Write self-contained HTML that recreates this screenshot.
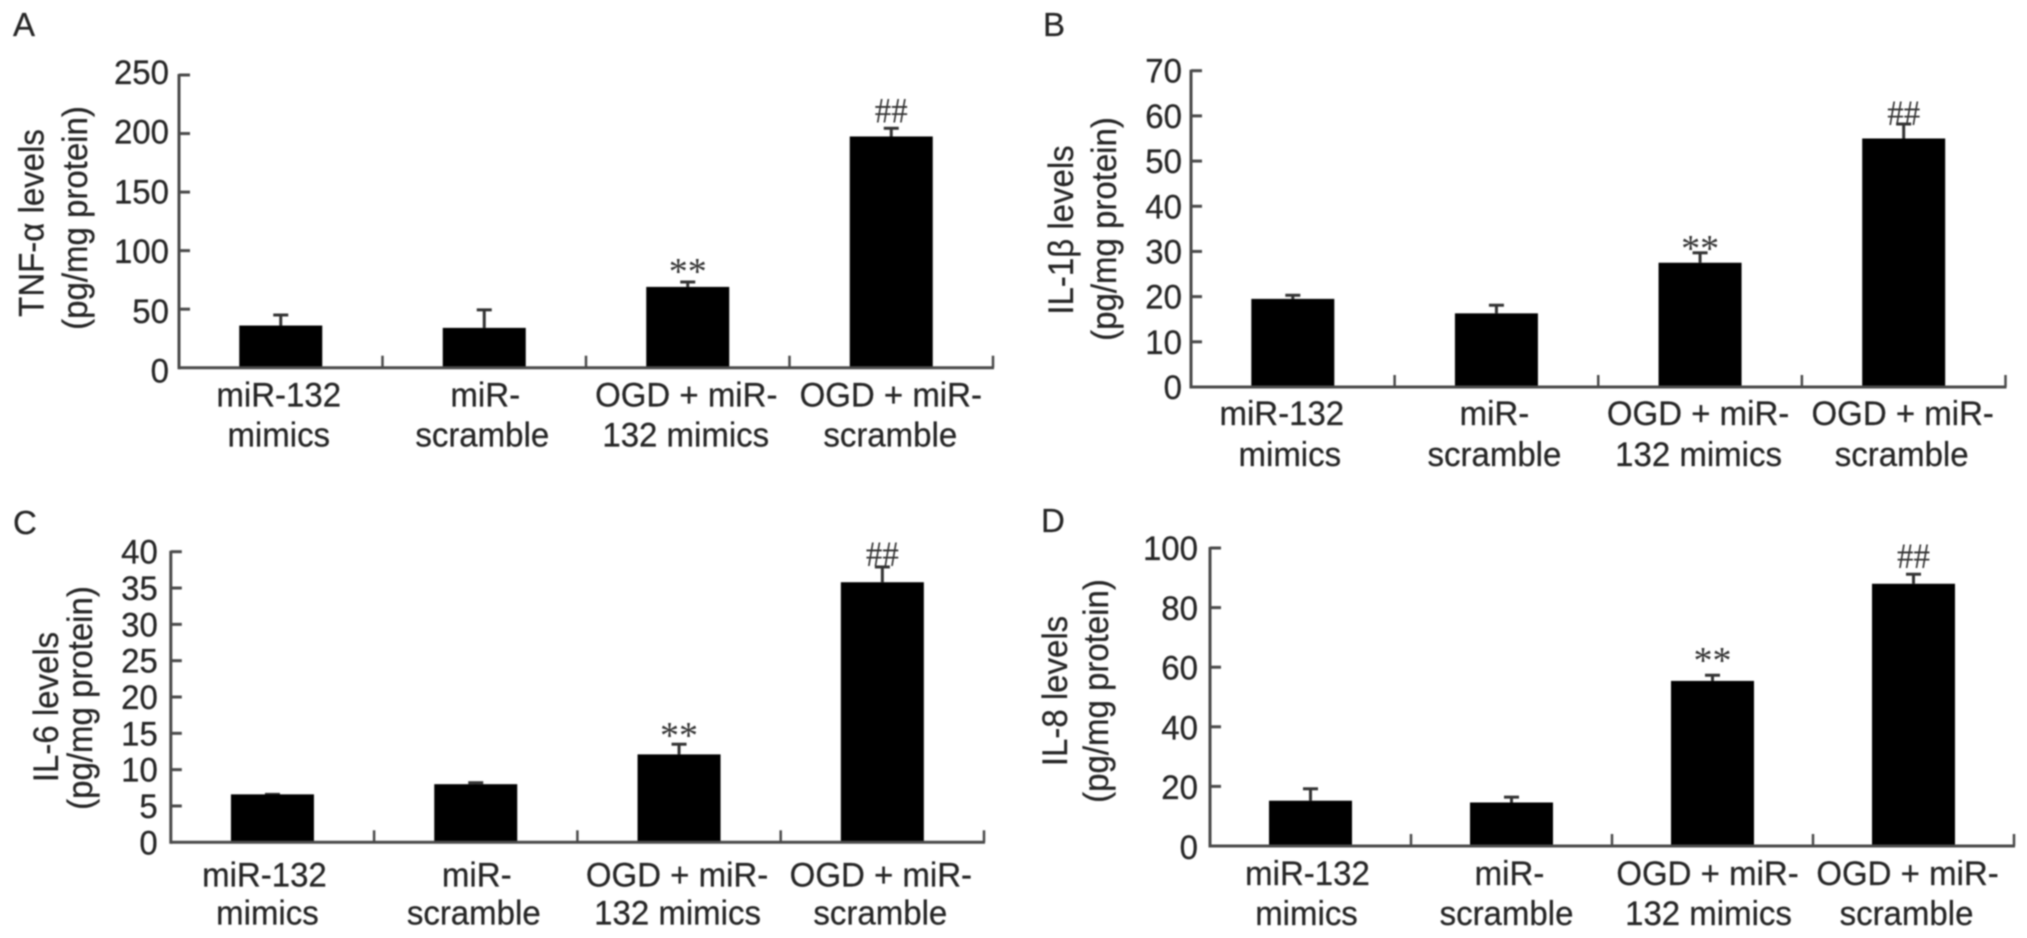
<!DOCTYPE html>
<html lang="en">
<head>
<meta charset="utf-8">
<title>Cytokine levels by treatment group</title>
<style>
  html, body { margin: 0; padding: 0; background: #fff; }
  svg { display: block; }
  text { font-family: "Liberation Sans", "DejaVu Sans", sans-serif; font-size: 33px; fill: #262626; stroke: #262626; stroke-width: 0.25px; }
  .mark { font-family: "Liberation Serif", "DejaVu Serif", serif; fill: #333; stroke: none; }
  #figure { filter: blur(0.7px); }
</style>
</head>
<body>
<svg id="figure" width="2027" height="938" viewBox="0 0 2027 938" xmlns="http://www.w3.org/2000/svg">
  <text x="13" y="36">A</text>
  <text x="1043" y="36">B</text>
  <text x="13" y="534">C</text>
  <text x="1041" y="532">D</text>

  <text transform="translate(43.5,223) rotate(-90) scale(1,1.07)" text-anchor="middle">TNF-α levels</text>
  <text transform="translate(87,218) rotate(-90) scale(1,1.07)" text-anchor="middle">(pg/mg protein)</text>
  <text transform="translate(1073,230) rotate(-90) scale(1,1.07)" text-anchor="middle">IL-1β levels</text>
  <text transform="translate(1116,229) rotate(-90) scale(1,1.07)" text-anchor="middle">(pg/mg protein)</text>
  <text transform="translate(58,707) rotate(-90) scale(1,1.07)" text-anchor="middle">IL-6 levels</text>
  <text transform="translate(92,698) rotate(-90) scale(1,1.07)" text-anchor="middle">(pg/mg protein)</text>
  <text transform="translate(1067,691) rotate(-90) scale(1,1.07)" text-anchor="middle">IL-8 levels</text>
  <text transform="translate(1108,691) rotate(-90) scale(1,1.07)" text-anchor="middle">(pg/mg protein)</text>
</svg>
<script>
// ---- Data ----
const categoryLine1 = ['miR-132', 'miR-', 'OGD + miR-', 'OGD + miR-'];
const categoryLine2 = ['mimics', 'scramble', '132 mimics', 'scramble'];
const significance = ['', '', '**', '##'];

const tnfTicks = [0, 50, 100, 150, 200, 250];
const tnfValues = [36, 34, 69, 197.5];
const tnfErrorTops = [45, 49.4, 73.2, 204.5];

const il1Ticks = [0, 10, 20, 30, 40, 50, 60, 70];
const il1Values = [19.5, 16.3, 27.5, 55];
const il1ErrorTops = [20.3, 18.1, 29.7, 58.2];

const il6Ticks = [0, 5, 10, 15, 20, 25, 30, 35, 40];
const il6Values = [6.6, 8.0, 12.1, 35.8];
const il6ErrorTops = [6.6, 8.2, 13.5, 37.9];

const il8Ticks = [0, 20, 40, 60, 80, 100];
const il8Values = [15.2, 14.6, 55.4, 88];
const il8ErrorTops = [19.2, 16.4, 57.3, 91.2];

// ---- Layout ----
const panels = [
  { id: 'a', ticks: tnfTicks, values: tnfValues, errs: tnfErrorTops, left: 179, right: 993, y0: 367.7, yTop: 75,
    labelGap: 10, offTop: 9, offBottom: 15, line1: 39, line2: 79, starDy: 2, hashDy: -6,
    nudge1: [0, 3, 0.5, 1.5], nudge2: [0, 0, 0, 1] },
  { id: 'b', ticks: il1Ticks, values: il1Values, errs: il1ErrorTops, left: 1191, right: 2005.5, y0: 387, yTop: 70.7,
    labelGap: 9, offTop: 12, offBottom: 12, line1: 38, line2: 79, starDy: 8, hashDy: 1,
    nudge1: [-9, 0, 0, 1], nudge2: [-1, 0, 0.5, 0] },
  { id: 'c', ticks: il6Ticks, values: il6Values, errs: il6ErrorTops, left: 170.8, right: 984, y0: 842.3, yTop: 551.7,
    labelGap: 13, offTop: 12, offBottom: 12, line1: 44, line2: 82, starDy: 4, hashDy: -1,
    nudge1: [-6, 3, 0, 0.5], nudge2: [-3, 0, 0.5, 0] },
  { id: 'd', ticks: il8Ticks, values: il8Values, errs: il8ErrorTops, left: 1210, right: 2014, y0: 846, yTop: 548,
    labelGap: 12, offTop: 12, offBottom: 13, line1: 39, line2: 79, starDy: -2, hashDy: -6,
    nudge1: [-1, 0, -3, -4], nudge2: [-2, -3, -2, -5] }
];

const BAR_WIDTH = 83;
const CAP_WIDTH = 15;
const AXIS_COLOR = '#4a4a4a';
const NS = 'http://www.w3.org/2000/svg';
const figure = document.getElementById('figure');

function make(tag, attrs, parent) {
  const el = document.createElementNS(NS, tag);
  for (const k in attrs) el.setAttribute(k, attrs[k]);
  parent.appendChild(el);
  return el;
}

function placed(x, y, sy) {
  return 'translate(' + x + ',' + y + ') scale(1,' + sy + ')';
}

panels.forEach(function (p) {
  const maxTick = p.ticks[p.ticks.length - 1];
  const yScale = function (v) { return p.y0 - (v / maxTick) * (p.y0 - p.yTop); };
  const band = (p.right - p.left) / p.values.length;
  const xCenter = function (i) { return p.left + band * (i + 0.5); };

  const group = make('g', {}, figure);
  
  

  // bars and error bars
  p.values.forEach(function (v, i) {
    const cx = xCenter(i);
    const top = yScale(v);
    const errTop = yScale(p.errs[i]);

    const stem = make('line', { x1: cx, x2: cx, y1: top, y2: errTop, stroke: '#333', 'stroke-width': 3 }, group);
    
    

    const cap = make('line', { x1: cx - CAP_WIDTH / 2, x2: cx + CAP_WIDTH / 2, y1: errTop, y2: errTop, stroke: '#333', 'stroke-width': 3 }, group);
    
    

    const bar = make('rect', { x: cx - BAR_WIDTH / 2, y: top, width: BAR_WIDTH, height: p.y0 - top, fill: '#000' }, group);
    
    

    if (significance[i]) {
      const isHash = significance[i] === '##';
      const mark = make('text', {
        transform: placed(cx, errTop + (isHash ? p.hashDy : p.starDy), isHash ? 1.1 : 1),
        'text-anchor': 'middle', 'class': 'mark', style: 'font-size:' + (isHash ? 33 : 38) + 'px'
      }, group);
      mark.textContent = significance[i];
      
      
    }

    const label1 = make('text', { transform: placed(cx - 2 + p.nudge1[i], p.y0 + p.line1, 1.04), 'text-anchor': 'middle' }, group);
    label1.textContent = categoryLine1[i];
    
    

    const label2 = make('text', { transform: placed(cx - 2 + p.nudge2[i], p.y0 + p.line2, 1.04), 'text-anchor': 'middle' }, group);
    label2.textContent = categoryLine2[i];
    
    

    const catTick = make('line', { x1: p.left + band * (i + 1), x2: p.left + band * (i + 1), y1: p.y0 - 12, y2: p.y0, stroke: AXIS_COLOR, 'stroke-width': 2.5 }, group);
    
    
  });

  // axes
  const yAxis = make('line', { x1: p.left, x2: p.left, y1: p.yTop - 1, y2: p.y0 + 1.5, stroke: AXIS_COLOR, 'stroke-width': 3 }, group);
  
  

  const xAxis = make('line', { x1: p.left, x2: p.right + 1, y1: p.y0, y2: p.y0, stroke: AXIS_COLOR, 'stroke-width': 3 }, group);
  
  

  // y ticks
  p.ticks.forEach(function (t) {
    const y = yScale(t);
    if (t !== 0) {
      const tick = make('line', { x1: p.left, x2: p.left + 11, y1: y, y2: y, stroke: AXIS_COLOR, 'stroke-width': 3 }, group);
      
      
    }
    const frac = t / maxTick;
    const off = p.offBottom + (p.offTop - p.offBottom) * frac;
    const label = make('text', { transform: placed(p.left - p.labelGap, y + off, 1.05), 'text-anchor': 'end' }, group);
    label.textContent = String(t);
    
    
  });
});
</script>
</body>
</html>
